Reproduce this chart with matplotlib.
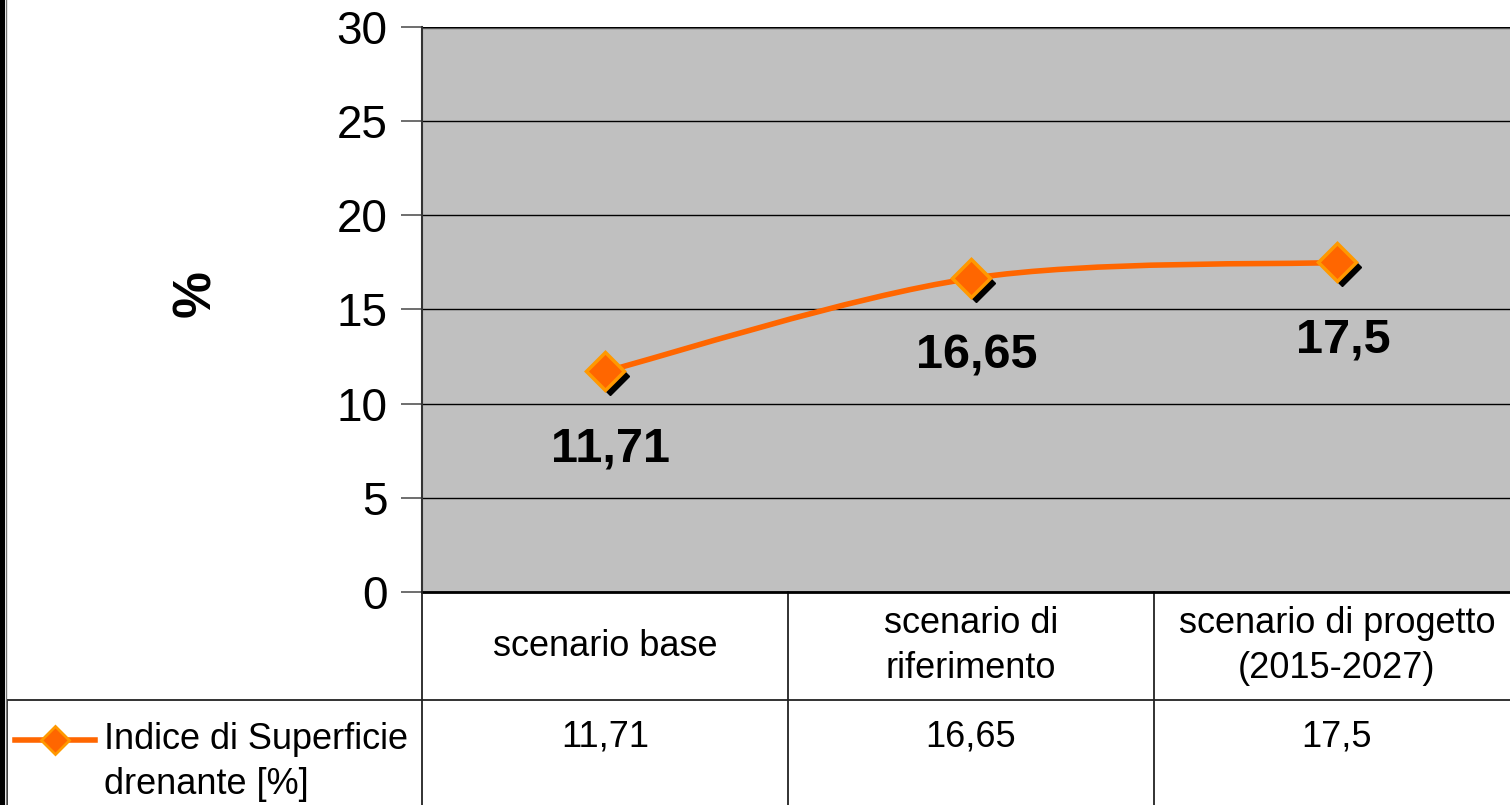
import matplotlib
matplotlib.use("Agg")
import matplotlib.pyplot as plt
import matplotlib.transforms as mtransforms
from matplotlib.path import Path
from matplotlib.patches import PathPatch, Rectangle
from matplotlib.lines import Line2D
import numpy as np

categories = ["scenario base", "scenario di\nriferimento", "scenario di progetto\n(2015-2027)"]
values = [11.71, 16.65, 17.5]
value_labels = ["11,71", "16,65", "17,5"]
series_name = "Indice di Superficie\ndrenante [%]"
yticks = [0, 5, 10, 15, 20, 25, 30]

ORANGE = "#FF6600"
EDGE = "#FF9900"
FONT = ["Liberation Sans", "DejaVu Sans"]

W, H = 1510, 805
fig = plt.figure(figsize=(W / 100, H / 100), dpi=100)
fig.patch.set_facecolor("white")

def fx(x):
    return x / W

def fy(y):
    return 1 - y / H

ax = fig.add_axes([fx(422), fy(592), fx(1510) - fx(422), fy(27) - fy(592)])
ax.set_facecolor("#C0C0C0")
ax.set_xlim(-0.5, 2.473)
ax.set_ylim(0, 30)
ax.set_yticks(yticks)
ax.set_yticklabels([str(t) for t in yticks], fontsize=33, family=FONT)
ax.tick_params(axis="y", length=15, width=1.2, color="#555555", pad=10)
ax.set_xticks([])
for s in ["top", "right"]:
    ax.spines[s].set_visible(False)
ax.spines["left"].set_color("#333333")
ax.spines["left"].set_linewidth(1.5)
ax.spines["bottom"].set_color("black")
ax.spines["bottom"].set_linewidth(2)
ax.grid(axis="y", color="black", linewidth=1)
ax.axhline(30, color="#666666", linewidth=2.5, zorder=1)

# y axis title
fig.text(fx(196), fy(294), "%", rotation=90, ha="center", va="center",
         fontsize=38, fontweight="bold", family=FONT)

# smoothed line (Bezier through the points, like a spreadsheet "smoothed line")
xs = np.arange(len(values), dtype=float)
pts = np.column_stack([xs, values])
ext = np.vstack([pts[0], pts, pts[-1]])
verts = [tuple(pts[0])]
codes = [Path.MOVETO]
for i in range(len(pts) - 1):
    p0, p1, p2, p3 = ext[i], ext[i + 1], ext[i + 2], ext[i + 3]
    c1 = p1 + (p2 - p0) / 6
    c2 = p2 - (p3 - p1) / 6
    verts += [tuple(c1), tuple(c2), tuple(p2)]
    codes += [Path.CURVE4] * 3
ax.add_patch(PathPatch(Path(verts, codes), facecolor="none", edgecolor=ORANGE,
                       linewidth=4, zorder=3))

shadow = mtransforms.offset_copy(ax.transData, fig=fig, x=5, y=-5, units="dots")
ax.plot(xs, values, "D", color="black", markersize=19, transform=shadow, zorder=4)
ax.plot(xs, values, "D", color=ORANGE, markeredgecolor=EDGE, markeredgewidth=2.5,
        markersize=19, zorder=5)

for x, v, lab in zip(xs, values, value_labels):
    ax.annotate(lab, (x, v), xytext=(6, -78), textcoords="offset pixels",
                ha="center", va="center", fontsize=35, fontweight="bold",
                family=FONT, zorder=6)

# data table below the plot
bx = mtransforms.blended_transform_factory(ax.transData, fig.transFigure)
for x, cat in zip(xs, categories):
    ax.text(x, fy(646), cat, transform=bx, ha="center", va="center",
            fontsize=26, family=FONT, linespacing=1.4, clip_on=False)
for x, lab in zip(xs, value_labels):
    ax.text(x, fy(737), lab, transform=bx, ha="center", va="center",
            fontsize=26, family=FONT, clip_on=False)

lc = "#222222"
fig.add_artist(Line2D([fx(7), fx(1510)], [fy(700), fy(700)], color=lc, lw=1.3))
fig.add_artist(Line2D([fx(422), fx(422)], [fy(592), fy(805)], color=lc, lw=1.3))
for xb in [0.5, 1.5]:
    ax.plot([xb, xb], [fy(592), fy(805)], transform=bx, color=lc, lw=1.3, clip_on=False)
fig.add_artist(Line2D([fx(7), fx(7)], [fy(700), fy(805)], color=lc, lw=1.3))

# legend key in the table
fig.add_artist(Line2D([fx(15), fx(95)], [fy(740), fy(740)], color=ORANGE, lw=4))
fig.add_artist(Line2D([fx(55)], [fy(740)], marker="D", color=ORANGE,
                      markeredgecolor=EDGE, markeredgewidth=2, markersize=14))
fig.text(fx(104), fy(762), series_name, ha="left", va="center", fontsize=26,
         family=FONT, linespacing=1.4)

# dark frame edge on the left
fig.add_artist(Rectangle((0, 0), fx(5), 1, transform=fig.transFigure,
                         facecolor="black", edgecolor="none"))
fig.add_artist(Line2D([fx(5.5), fx(5.5)], [0, 1], color="#777777", lw=1))

fig.savefig("out.png", dpi=100)
